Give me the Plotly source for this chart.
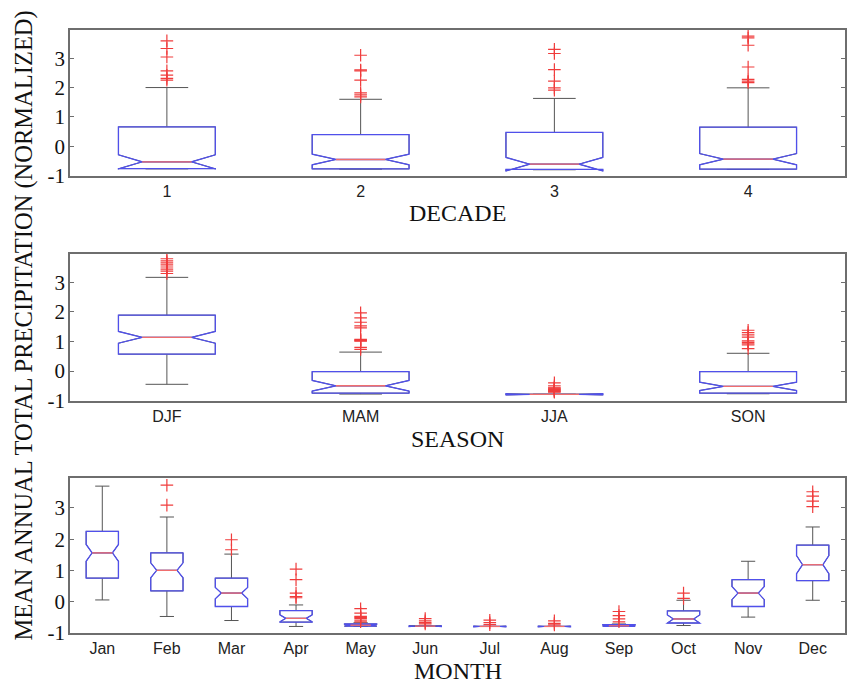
import plotly.graph_objects as go
from plotly.subplots import make_subplots

# ---------------- data ----------------
decade_labels = ['1', '2', '3', '4']
decade_q1 = [-0.76, -0.77, -0.79, -0.78]
decade_med = [-0.53, -0.45, -0.61, -0.44]
decade_q3 = [0.66, 0.40, 0.47, 0.65]
decade_lo = [-0.77, -0.78, -0.80, -0.79]
decade_hi = [2.00, 1.60, 1.63, 1.99]
decade_notch = [0.24, 0.18, 0.23, 0.19]
decade_outliers = [
    [3.59, 3.33, 3.04, 2.57, 2.42, 2.31, 2.25],
    [3.10, 2.60, 2.57, 2.25, 1.82, 1.75, 1.68],
    [3.30, 3.16, 2.61, 2.22, 1.99, 1.91],
    [3.75, 3.69, 3.44, 2.70, 2.28, 2.22, 2.17],
]

season_labels = ['DJF', 'MAM', 'JJA', 'SON']
season_q1 = [0.57, -0.75, -0.79, -0.75]
season_med = [1.14, -0.50, -0.79, -0.52]
season_q3 = [1.89, -0.02, -0.79, -0.02]
season_lo = [-0.45, -0.78, -0.79, -0.77]
season_hi = [3.17, 0.64, -0.79, 0.60]
season_notch = [0.20, 0.18, 0.02, 0.14]
season_outliers = [
    [3.80, 3.73, 3.66, 3.59, 3.52, 3.45, 3.38, 3.30],
    [1.97, 1.80, 1.65, 1.53, 1.46, 1.07, 1.05, 1.03, 1.01, 0.80, 0.73],
    [-0.40, -0.50, -0.55, -0.58, -0.60, -0.62, -0.64, -0.66, -0.68, -0.70, -0.72],
    [1.38, 1.30, 1.22, 1.15, 1.02, 0.97, 0.92, 0.88, 0.76],
]

month_labels = ['Jan', 'Feb', 'Mar', 'Apr', 'May', 'Jun',
                'Jul', 'Aug', 'Sep', 'Oct', 'Nov', 'Dec']
month_q1 = [0.75, 0.34, -0.16, -0.66, -0.79, -0.79, -0.80, -0.80, -0.80, -0.69, -0.16, 0.67]
month_med = [1.56, 1.00, 0.27, -0.54, -0.76, -0.79, -0.80, -0.80, -0.78, -0.56, 0.27, 1.18]
month_q3 = [2.25, 1.56, 0.75, -0.29, -0.72, -0.79, -0.80, -0.80, -0.74, -0.30, 0.70, 1.81]
month_lo = [0.05, -0.48, -0.61, -0.80, -0.80, -0.79, -0.80, -0.80, -0.80, -0.77, -0.50, 0.04]
month_hi = [3.70, 2.71, 1.52, -0.11, -0.68, -0.79, -0.80, -0.80, -0.72, 0.04, 1.29, 2.39]
month_notch = [0.27, 0.24, 0.18, 0.11, 0.03, 0.01, 0.01, 0.01, 0.02, 0.13, 0.21, 0.29]
month_outliers = [
    [],
    [3.73, 3.09],
    [1.98, 1.66],
    [1.04, 0.70, 0.27, 0.16, 0.12],
    [-0.23, -0.37, -0.48, -0.51, -0.54, -0.60, -0.65],
    [-0.55, -0.62, -0.68, -0.72],
    [-0.60, -0.68, -0.74],
    [-0.62, -0.70, -0.75],
    [-0.32, -0.45, -0.56, -0.65],
    [0.27, 0.10],
    [],
    [3.52, 3.38, 3.22, 3.04],
]

y_title = 'MEAN ANNUAL TOTAL PRECIPITATION (NORMALIZED)'
x_titles = ['DECADE', 'SEASON', 'MONTH']

# ---------------- style ----------------
BLUE = 'rgb(80,80,235)'
RED_MED = 'rgb(240,110,110)'
RED_OUT = 'rgb(240,60,60)'
WHISK = 'rgb(85,85,85)'
FRAME = 'rgb(110,110,110)'
BOX_W = 0.5

panels = [
    (decade_labels, decade_q1, decade_med, decade_q3, decade_lo, decade_hi, decade_notch, decade_outliers, 0.245),
    (season_labels, season_q1, season_med, season_q3, season_lo, season_hi, season_notch, season_outliers, 0.245),
    (month_labels, month_q1, month_med, month_q3, month_lo, month_hi, month_notch, month_outliers, 0.185),
]

fig = make_subplots(rows=3, cols=1)

for r, (labels, q1, med, q3, lo, hi, notch, outl, nw) in enumerate(panels, start=1):
    pos = list(range(1, len(labels) + 1))
    # whiskers (black) + box underneath
    fig.add_trace(go.Box(
        x=pos, q1=q1, median=med, q3=q3, lowerfence=lo, upperfence=hi,
        notched=True, notchspan=notch, notchwidth=nw, width=BOX_W,
        whiskerwidth=0.44, line=dict(color=WHISK, width=1),
        fillcolor='rgba(0,0,0,0)', showlegend=False, hoverinfo='skip'),
        row=r, col=1)
    # blue notched box on top
    fig.add_trace(go.Box(
        x=pos, q1=q1, median=med, q3=q3, lowerfence=q1, upperfence=q3,
        notched=True, notchspan=notch, notchwidth=nw, width=BOX_W,
        showwhiskers=False, line=dict(color=BLUE, width=1.3),
        fillcolor='rgba(0,0,0,0)', showlegend=False, hoverinfo='skip'),
        row=r, col=1)
    # red median segments
    half = BOX_W / 2 * (1 - 2 * nw)
    mx, my = [], []
    for p, m in zip(pos, med):
        mx += [p - half, p + half, None]
        my += [m, m, None]
    fig.add_trace(go.Scatter(x=mx, y=my, mode='lines',
                             line=dict(color=RED_MED, width=1.3),
                             showlegend=False, hoverinfo='skip'), row=r, col=1)
    # outliers
    ox, oy = [], []
    for p, vals in zip(pos, outl):
        ox += [p] * len(vals)
        oy += vals
    fig.add_trace(go.Scatter(x=ox, y=oy, mode='markers',
                             marker=dict(symbol='cross-thin-open', size=9,
                                         color=RED_OUT,
                                         line=dict(color=RED_OUT, width=1.2)),
                             showlegend=False, hoverinfo='skip'), row=r, col=1)

    fig.update_xaxes(range=[0.5, len(labels) + 0.5], tickvals=pos, ticktext=labels,
                     showgrid=False, zeroline=False, showline=True, mirror=True,
                     linecolor=FRAME, linewidth=1.5, ticks='',
                     ticklabelstandoff=0,
                     tickfont=dict(family='Liberation Sans, Arial', size=16, color='#222'),
                     row=r, col=1)
    fig.update_yaxes(range=[-1.01, 3.96], tickvals=[-1, 0, 1, 2, 3],
                     ticktext=['-1', '0', '1', '2', '3'],
                     showgrid=False, zeroline=False, showline=True, mirror='ticks',
                     linecolor=FRAME, linewidth=1.5, ticks='inside', ticklen=4,
                     tickcolor=FRAME, ticklabelstandoff=-1,
                     tickfont=dict(family='Liberation Serif, Times New Roman', size=21, color='#111'),
                     row=r, col=1)

# domains (pixel-matched)
fig.layout.yaxis.domain = [0.758, 1.0]
fig.layout.yaxis2.domain = [0.385, 0.6285]
fig.layout.yaxis3.domain = [0.0, 0.257]
for ax in ('xaxis', 'xaxis2', 'xaxis3'):
    fig.layout[ax].domain = [0, 1]

title_y = [0.6965, 0.3215, -0.0625]
annotations = []
for t, yy in zip(x_titles, title_y):
    annotations.append(dict(text=t, x=0.5, y=yy, xref='paper', yref='paper',
                            xanchor='center', yanchor='middle', showarrow=False,
                            font=dict(family='Liberation Serif, Times New Roman', size=24, color='#111')))
annotations.append(dict(text=y_title, x=-0.0592, y=0.51, xref='paper', yref='paper',
                        xanchor='center', yanchor='middle', textangle=-90, showarrow=False,
                        font=dict(family='Liberation Serif, Times New Roman', size=24.5, color='#111')))

fig.update_layout(
    width=850, height=685,
    margin=dict(l=70, r=3, t=30, b=52),
    paper_bgcolor='white', plot_bgcolor='white',
    boxmode='overlay',
    annotations=annotations,
    showlegend=False,
)

fig.write_html('out.html')
